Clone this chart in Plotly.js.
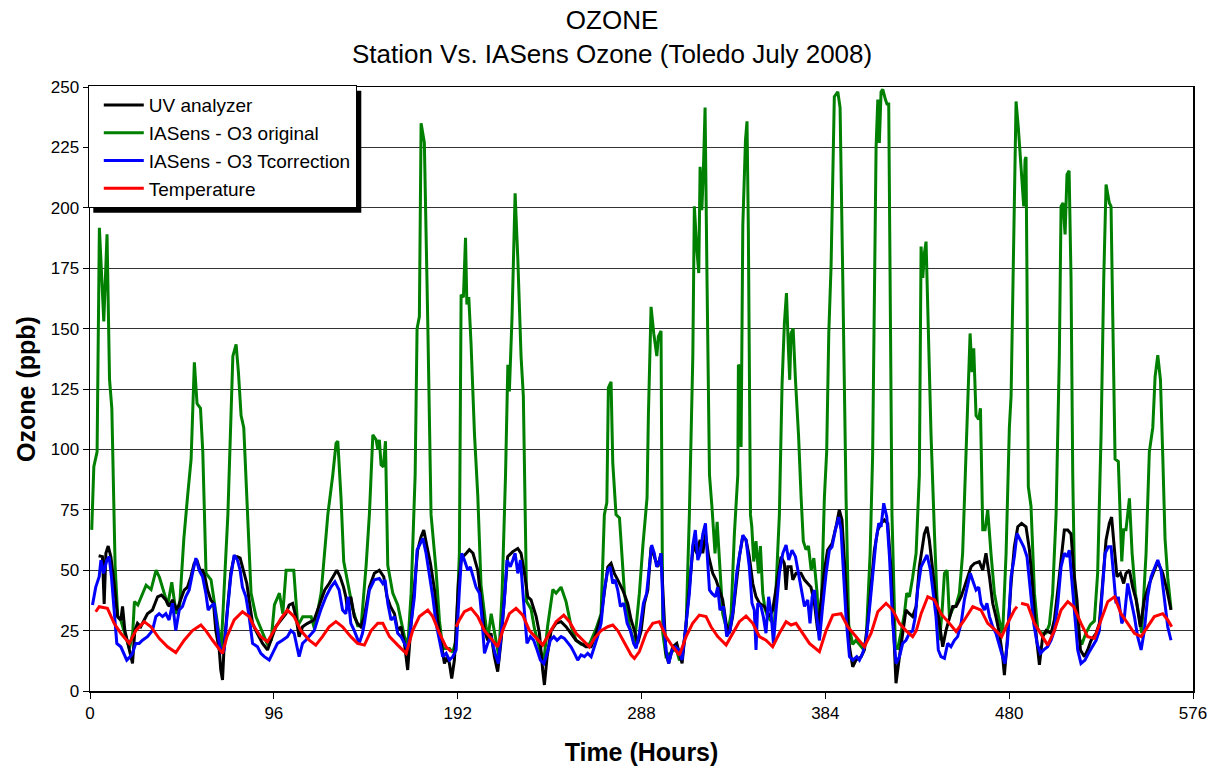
<!DOCTYPE html>
<html>
<head>
<meta charset="utf-8">
<script src="https://cdn.plot.ly/plotly-3.0.1.min.js"></script>
<style>html,body{margin:0;padding:0;background:#fff}#chart{width:1212px;height:767px}</style>
</head>
<body>
<div id="chart"></div>
<script>
// ---- data (hours, ppb / temperature) ----
const xTicks = [0, 96, 192, 288, 384, 480, 576];
const seriesNames = ["UV analyzer", "IASens - O3 original", "IASens - O3 Tcorrection", "Temperature"];

const uvHours = [4.5,6.5,7.4,8.3,9.5,10.9,12.6,14.4,16.1,17,18.2,19.6,21,22.2,23.4,24.8,26.5,28.3,30,32.6,35.3,37.3,39.6,41.3,43.1,45.4,47.4,49.2,50.9,52.7,54.4,55.8,57.5,58.8,60,61.4,63.1,64.5,65.7,67.5,68.3,69.2,70.1,71.8,73.5,75.3,77,78.4,80.2,81.9,83.1,84.9,86.6,88.3,90.1,92.7,95.3,97,99.7,102.3,104,105.8,107.5,109.2,111,113.6,117,118.8,120.5,122.6,124.9,127.5,128.9,130.6,132.4,133.6,134.5,136.2,138,139.7,141.4,143.3,145.9,148.5,151.1,153.4,155.1,156.9,159,160.7,162.4,164.2,165.9,167.7,169.4,171.1,172.9,174.3,176,177.8,179.9,181.6,183.7,185.1,186.5,187.7,188.9,190.3,192.4,194,196.5,198.1,200,202.5,204.2,206,207.7,209.4,211.2,212.9,214.7,216.4,218.1,220.8,223.4,225.1,226.9,228.6,230.3,233,234.7,236.4,237.3,238.7,240.8,243.4,246,248.6,251.2,253.8,256.4,259,261.7,264.3,266.9,268.6,270.4,272.1,273.8,275.6,278.2,280.8,282.6,284.3,286,287.8,289.5,291.3,293,294.7,296.5,298.2,299.4,300.8,302.2,304.3,306.4,307.8,309.2,311.3,313,315.1,316.8,318.6,320,321.4,323.1,325.2,326.9,328.7,330.4,332.2,333.9,335.6,337.4,339.1,340.9,342.6,344.3,346.1,347.8,349.6,352.2,354.8,356.5,358.3,360.9,362.6,363.5,364.4,366.1,367,368.7,371.3,373.1,374.8,376.5,378.3,380,381.8,383.5,385.2,387.5,389.6,391.3,392.7,393.9,395.2,396.6,398.3,400,402.7,404.4,406.1,407.9,409.6,411.4,413.1,414.8,416.6,418.3,420.1,420.9,422.7,424.4,426.1,427.9,429.6,431.4,433.1,435.7,437.1,438.3,440,441.8,443.6,445.3,447,448.8,450.5,452.3,454.9,456.6,458.3,460.1,461.8,464.4,466.2,467.9,469.7,471.4,473.1,474.9,476.6,477.5,478.9,481,482.7,484.5,486.5,488.8,490.6,492.3,494,495.8,497.5,499.3,501.9,503.6,505.4,507.1,508.8,510.6,512.3,513.7,515.4,517.2,519.3,521,522.8,525.4,527.1,528.8,530.6,532.3,533.5,535,536.3,538.1,539.8,541,542.8,544.5,546.3,548.5,550.6,553.2,555.8,557.6,560.2,562.4,564.5];
const uvValues = [56,55.6,36,57,60,55.6,44.5,30.8,29.4,35,25,19.7,15.6,11.4,25,28,26.6,29.4,32,33.5,39,39.7,37.7,35,37.7,33.5,37.7,41.8,43,47.3,52.8,54.2,50,50,47.3,41.8,37.7,36.3,25,17,8.7,4.6,19.7,33.5,48.7,55.6,55.6,55,50,44.5,37.7,28,25,22.5,19.7,17,22.5,26.6,29.4,32,35.6,36.3,30.8,22.5,26.6,28,29.4,33.5,37.7,41.8,44.5,48,50,47.3,43,39,33.5,39,30.8,28,26.6,30.8,43,48.7,50,47.3,39,35,32,25,26.6,19.7,8.7,28,41.8,58.3,63.9,66.6,59.7,52.8,41.8,29.4,18.3,11.4,14.2,11.4,5.2,12.8,45,55,57,58.5,57,50,37.7,25,21,23.9,14.2,8,21,39,55.6,57.7,59,57,48.7,39,37.7,30.8,23.9,8.7,2.5,14.2,25,28,28.7,26.6,23.9,21,19.7,18.3,18.3,23.9,30.8,41.8,51.4,52.8,48.7,46,41.8,36.3,29.4,25,19.7,25,36.3,41.8,59.7,55.6,51.4,57,37.7,15.6,11.4,18.3,19.7,15.6,11.4,28,41.8,61,57,62.5,57,65,55.6,48.7,46,41.8,37.7,28,23.9,30.8,43,55.6,63.9,62.5,55.6,44.5,39,36.3,35,30.8,33.5,43,55.6,52.8,41.8,51.4,51.4,46,48.7,48.7,46,44.5,43,36.3,25,37.7,50,58.3,61,68,75,70.8,55.6,35,18.3,10,12.8,14.2,17,28,44.5,58.3,66.6,69.4,70.8,69.4,50,17,3.2,14.2,25,33.5,32,30.8,35,51.4,65,68,62.5,50,37.7,28,18.3,25,30.8,35,35,39,43,47.3,51.4,52.8,53.5,50,57,47.3,36.3,30.8,23.9,14.2,6.6,19.7,44.5,59.7,68,69.4,68,58.3,43,23.9,10.8,22.5,25,23.9,29.4,41.8,55.6,66.6,66.6,65,50,37.7,17,14.2,17,21,23.9,28,44.5,62.5,69.4,72,58.3,47.3,48.7,44.5,48.7,50,43,37.7,26.6,37.7,44.5,50,53.5,48.7,41.8,33.5];

const origHours = [0.9,2,3.7,4.9,7.2,8.9,10.2,11.4,13.1,14.5,16.2,18.9,20.6,22.3,23.2,25,27.6,29.3,31.9,34.5,36.3,38.9,40.6,42.7,45,46.7,49,51,52.8,54.5,55.9,57.7,58.9,60.6,63.2,68.5,72,74.6,76.3,77.5,78.9,80.3,82.4,84.1,86.7,90.2,92.8,94.6,96.3,98.9,100.7,102.4,106.4,108.5,111.1,115.5,117.2,120.7,122.4,124.2,126.8,128.5,129.4,131.1,132.5,134.6,137.2,139.8,141.6,144.2,145.9,147.7,149.4,150.3,151.1,152,153.2,154.3,155.5,158.1,160.7,164.2,166,167.7,169.8,170.8,172,172.9,174.6,176.4,178.1,180.7,182.5,184.2,187.7,189.4,191.2,192.9,193.8,195,196.1,196.8,197.8,199,200.8,202.5,204.2,206,207.7,209.5,211.2,213.5,215.2,217,218.2,219,220.4,222,223.4,225.1,226.3,228,230.3,232.1,234.7,237,239,241.7,243.4,246,248.6,251.2,253.8,256.5,260.8,264.3,266.9,268.6,269.9,270.7,272.1,273,274.7,276.5,279.1,281.7,284.3,286.9,288.7,290.9,291.6,293,294.4,296,296.8,298.2,298.6,299.1,300.8,303.4,306.1,307.8,309.5,311.3,313,314.8,315.6,316.9,317.9,318.6,319.5,320.3,321.2,322.2,323.5,324.9,326.4,327.5,328.7,330.4,333,334.8,336.5,338.3,338.6,339.6,340,340.9,342.3,343.1,343.8,344.9,345.6,346.6,347.8,349.1,350.1,351.3,352.5,353.9,355.7,357.4,360,361.4,362.6,363.7,364.7,365.4,366.1,367.2,368.4,370,371.3,372.5,373.9,375.2,376.6,378,379.7,380.9,382.1,383.5,384.7,385.8,387,388.7,390.5,391.7,393.1,394.8,396.2,398.3,400,401.8,403.5,405.3,407.4,408.7,410.5,411.4,412.2,413.1,414,415.4,416.2,417.1,417.8,418.8,420.6,421.8,423.5,425.3,426.5,427.9,429.6,431.4,433.1,434,434.9,435.7,436.6,437.5,439.2,441,442.2,443.6,444.9,446.2,447.6,448.8,450.5,452.3,454,455.7,457.5,458.4,459.6,460.6,461.5,462.7,464.1,465,466.2,467.4,468.8,470.5,472.3,474.9,476.6,478.4,480.1,481,482.4,483.6,484.8,486.2,487.6,488.3,488.8,489.3,490,491.4,493.2,494.9,496.6,499.3,501,502.7,504.5,506.2,507.1,508.1,509.2,510.2,511.3,512.3,513.2,514.4,516.1,517.9,520.1,522.4,524.5,526.2,528,529.4,530.6,532.3,533.2,534.1,535.3,537,538.1,538.8,539.8,541,542.8,544.2,545.9,548,549.2,551.5,553.2,555,556.2,557.6,559,560.2,561.4,562.8,564.5];
const origValues = [66.7,92.8,99,191.7,153,189,129,117,52,30.7,29,22.5,17.6,24,37,35.6,40.5,43.8,42,50,47,40.5,35.6,45,32,34,63,81,96,136,119,117,99,48.7,46,17.6,73,138.6,143.5,132,114,109,73,40.5,30.7,24,19,21,35.6,40.5,32,50,50,27,30.7,30.7,25.8,40.5,57,73,89.5,102.6,103.4,79.7,53.6,45.4,34,27,27,52,73,106,104,100,104,93.6,92.8,103.4,52,40.5,35.6,22.5,19.3,40.5,89.5,150,155,235,227,152,73,50,29,17.6,17.6,16,21,57,164,163,187.6,160,163,143.5,106,81,43.8,32,21,32,24,14.4,40.5,89.5,135,124,155,206,179,138.6,122,37,34,25.8,17.6,12.7,27,42,40.5,43,37,27,21,19.3,19.3,25.8,32,73,78,125.5,128,94.4,73,71.6,40.5,27,19.3,40.5,60,80,114,159,148,138.6,146.7,149,89.5,24,14.4,16,17.6,12.7,16,27,73,138.6,200.6,182.7,173,217,199,215,241.5,171,89.5,75,57,70,52,32,24,32,65,89.5,135,133.7,101,192.5,228,235.8,191,73,68,53.6,62,48.7,60,40.5,34,30.7,29,27.5,73,127,152,164.7,141.8,128.8,148,150,128.8,106,81,62,58.5,60,50,55,40.5,21,40.5,80,99,148,176,246,248,241.5,171,81,27.5,19.3,21,19.3,17.6,21,57,97.7,225,244.8,226.8,248,249,244.8,243,243,163,73,17.6,17.6,24,32,40.5,39,47,57,89.5,184,171,181,186,155,106,65,40.5,21,32,48.7,50,30.7,34,35.6,40.5,57,97.7,122,148,132,141.8,114,112.4,117,66.7,66.7,75,57,40.5,29,24,57,109,122,187.6,244,233,217,200.6,220,221,171,84.6,76.5,40.5,25.8,24,24,27.5,40.5,73,138.6,200.6,202,189,213.7,215.3,171,89.5,32,22.5,19.3,24,27.5,29,48.7,106,171,209.6,202,200.6,155,96,95,73,53.6,66.7,66.7,79.7,57,40.5,29,24,57,99,109,130,139,128.8,97.7,63,47,34];

const tcorrHours = [1.3,3,4.8,5.7,7.1,8.8,10,11.2,12.6,14,16.1,17.8,19.2,21,22.2,23.9,25.7,27.4,30,32.6,34.4,36.1,37.9,39.6,41.3,43.1,44.8,46.6,48.3,50,51.8,53.5,55.3,57,58.8,60.5,61.7,63.1,64.8,66.2,67.5,68.8,70.1,71.8,73.5,75.3,77,78.4,79.6,81.4,83.1,84.9,87.5,89.2,91,93.6,95.3,97.9,100.5,103.1,104.9,106.6,109.2,111,112.7,114.5,117.1,118.8,120.5,123.2,125.8,127.9,130.1,131.9,133.6,134.8,136.2,138,140.6,142.3,143.3,145.9,148.5,151.1,152.9,154.1,155.5,157.2,159,160.7,162.4,164.2,165.9,167.7,169.4,170.8,172.5,173.8,175.5,177.2,179,180.7,182.5,184.2,186,187.7,189.4,191.2,192.9,194.1,195.5,197.3,198.6,199.9,201.6,203.4,204.6,206,207.7,209.4,211.5,213.3,214.7,216.4,217.8,219.5,220.8,222,223.4,224.8,226.5,228.2,230,231.7,233.5,235.2,237,238.7,240.4,242.2,243.9,246,247.7,249.8,251.2,253,254.7,256.4,258.2,259.9,261.7,263.4,265.1,266.9,268.6,270.4,271.6,273,274.2,275.6,277,278.7,280.5,282.2,283.9,285.2,286.9,289,290.7,292.1,293.3,294.7,295.9,297,298.2,299.4,300.8,302.2,304,305.7,307.4,309.2,310.9,313,314.7,316.1,317.4,318.6,320,321.4,322.6,323.5,324.8,326.6,327.8,329,330.8,332.5,334.2,335.9,337.7,339.5,340.9,342.6,344.3,345.7,346.9,347.8,348.7,350.4,351.6,353,354.4,355.7,356.9,358.3,360,361.8,363.5,364.9,366.6,368.4,370.1,371.8,373.1,374.8,376,377.1,378.3,379.5,380.9,382.6,384.4,386.1,387.5,389.2,391,392.2,393.4,394.8,396.6,398.3,400.4,401.8,403.5,405.3,407,408.7,410.5,411.9,413.1,414.5,416.1,417.5,419.2,420.9,422.7,424.4,426.1,427.9,429.6,431,432.2,434,435.7,437.1,438.9,440.1,441.8,443,444.4,446.2,447.9,449.6,451.4,453.1,454.9,456.6,458.3,459.7,461.5,462.7,464.1,465.3,467.1,468.4,469.7,471.4,473.1,474.9,476.6,477.8,479.2,481,482.7,484.1,485.9,487.6,489.3,491.1,492.8,494.6,496.3,498,500.1,501.9,503.6,505.4,507.1,508.8,510.2,511.4,512.3,514,515.8,517.5,519.6,521.4,523.6,525.4,527.1,528.8,530.1,531.8,533.2,534.6,535.8,537,538.8,540.2,541.9,543.6,545.4,547.1,548.9,550.6,552.3,554.1,556.2,557.6,559.3,561,562.8,564.5];
const tcorrValues = [35.6,43,47.3,54.2,48.7,54.2,55.6,47.3,33.5,19.7,18.3,15.6,12.8,14.2,15.6,19.7,19.7,21,22.5,25,30.8,32,30.8,32,29.4,36.3,25,33.5,35,39,41.8,48.7,55,50,47.3,40.4,33.5,35,36.3,28,19.7,15.6,17,33.5,47.3,56.3,54.2,50,43,39,30.8,19.7,18.3,15.6,14.2,12.8,15.6,19.7,21,22.5,25,23.9,14.2,19.7,21,22.5,25,29.4,33.5,39,43,45.2,41.8,33.5,32,39,28,25,19.7,23.9,28,41.8,46,46.6,44.5,46,36.3,29.4,30.8,23.9,22.5,19.7,17,28,39,58.3,61,63.2,57,48.7,39,28,21,14.2,15.6,12.8,14.2,17,41.8,57,54.2,50,51.4,47.3,43,40.4,30.8,15.6,19.7,22.5,15.6,11.4,22.5,37.7,54.2,51.4,54.2,57,48.7,54.2,36.3,19.7,22.5,21,17,12.8,11.4,15.6,21,22.5,21,22.5,21.8,19.7,18.3,15.6,12.8,14.9,14.2,15.6,14.2,18.3,22.5,28,41.8,50,51.4,44.5,46,41.8,35,36.3,28,25,19.7,17.7,24,36.3,40.4,51.4,60.4,57,51.4,52.8,57,30.8,17,11.4,17,18.3,17,12.8,25,40.4,59.7,66.6,54.2,57,65,69.4,52.8,41.8,40.4,39,43,33.5,35,22.5,25,33.5,48.7,58.3,64.5,62.5,51.4,36.3,33.5,17,36.3,35,30.8,23.9,39,32,19.7,33.5,48.7,57,60.4,54.2,58.3,55.6,48.7,41.8,35,37.7,28,39,41.8,30.8,21,35,48.7,58.3,59.7,66.6,72,66.6,50,30.8,14.2,12.8,14.2,12.8,15.6,21,33.5,48.7,62.5,69.4,68,77.7,72,55.6,28,11.4,14.2,19.7,21,23.9,25,30.8,41.8,51.4,54.2,56.3,50,41.8,30.8,17,14.2,13.5,19.7,18.3,21,22.5,28,37.7,44.5,48.7,44.5,41.8,43,36.3,33.5,36.3,30.8,26.6,23.9,18.3,14.2,11.4,21,47.3,55.6,65.2,62.5,59.7,55.6,41.8,28,19.7,15.6,17,18.3,21,25,36.3,51.4,57,55.6,58.3,50,35,17,11.4,12.8,15.6,18.3,21,25,41.8,57,59.7,59.7,47.3,36.3,39,28,30.8,44.5,37.7,30.8,22.5,17,25,39,47.3,51.4,54.2,50,39,26.6,21];

const tempHours = [3,4.8,9.1,12.6,16.1,20.5,23.9,28.3,31.8,36.1,40.5,44.8,49.2,53.5,57.9,60.5,64,67.5,69.2,71.5,75.3,79.6,83.1,85.7,89.2,92.7,96.2,99.7,103.1,106.6,110.1,114.5,117.9,121.4,124.9,128.4,131.9,136.2,139.7,143.3,146.8,150.3,152.9,156.4,160.7,165.1,168.5,172,176.4,179,182.5,185.9,188.6,190,191.2,192.9,195.5,199,202.5,206,209.4,212.9,215.5,219,222.5,226,229.5,233,236.4,239.9,243.4,247.4,250.4,253.8,257.3,260.8,263.4,266.9,270.4,273,275.6,279.1,282.6,284.3,286.9,290.4,293.9,297.3,300.8,304.3,307.8,311.3,314.7,318.2,321.7,324.3,327.8,332.2,335.6,339.1,342.6,346.1,349.6,353,356.5,360,363.5,366.1,368.7,372.2,375.7,380.9,384.4,387.9,392.2,395.7,400,404.4,407.9,411.4,415.7,419.2,422.7,426.1,429.6,431.5,434,437.5,441,444.4,448.8,452.3,456.6,461,465.3,468.8,473.1,476.1,479.2,482.7,484.1,485,486.2,489.7,493.2,497.5,500.1,503.6,507.1,510.6,513.7,517.5,521,524.5,528,531.5,535,538.4,541.9,545.4,548.9,552.3,555.8,560.2,562.8,564.9];
const tempValues = [32.8,34.9,34.2,28,23.9,19.7,25,28.7,26.6,21.8,18.3,15.9,21,25,27.3,25,21,17,15.6,22.5,29.4,32.8,30.8,26.6,22.5,20.4,25,30,33.5,30.8,25,21,19,22.5,26.6,28.7,26.6,22.5,19.7,19,25,28,28,22.5,19,15.6,25,30.8,33.5,30.8,23.9,18.3,16.3,null,26.6,29.4,32.8,34.2,30.8,25,21.8,18.3,25,32,34.2,31.4,25,21.8,19,23.9,28.7,31.4,28.7,23.9,21,18.3,21.8,25,26.6,27.3,25,19.7,14.9,13.5,16.3,23.9,28,28.7,22.5,18.3,14.9,22.5,28,31.4,30.8,26.6,22.5,19,23.9,28.7,31,28,22.5,21,18.3,23.9,28.7,27.3,28,23.9,19.7,16.3,25,31.4,32,26.6,22.5,18.3,23.9,32.8,36.3,33.5,28,25,22.5,25,32,39,37.7,32,28,24.6,29.4,34.9,33.5,28,25,22.5,28,33.5,34.9,null,36.3,35.6,28,22.5,19,25,33.5,37,34.9,28,22.5,21.8,29.4,37,39,32,28,23.9,22.5,26.6,30.8,32,29.4,26.6];

const colors = {uv: "#000000", orig: "#008000", tcorr: "#0000FF", temp: "#FF0000"};
const FONT = "Liberation Sans, Arial, sans-serif";
const M = {l: 90, r: 19, t: 87, b: 76};

const traces = [
  {x: origHours, y: origValues, name: seriesNames[1], legendrank: 2, legendgroup: "g2",
   type: "scatter", mode: "lines", line: {color: colors.orig, width: 3}},
  {x: uvHours, y: uvValues, name: seriesNames[0], legendrank: 1, legendgroup: "g1",
   type: "scatter", mode: "lines", line: {color: colors.uv, width: 3}},
  {x: tcorrHours, y: tcorrValues, name: seriesNames[2], legendrank: 3, legendgroup: "g3",
   type: "scatter", mode: "lines", line: {color: colors.tcorr, width: 3}},
  {x: tempHours, y: tempValues, name: seriesNames[3], legendrank: 4, legendgroup: "g4",
   type: "scatter", mode: "lines", connectgaps: false, line: {color: colors.temp, width: 3}}
];

const layout = {
  width: 1212, height: 767,
  paper_bgcolor: "#ffffff", plot_bgcolor: "#ffffff",
  margin: M,
  font: {family: FONT, color: "#000", size: 17},
  title: {text: "OZONE<br>Station Vs. IASens Ozone (Toledo July 2008)",
          x: 0.505, xref: "container", xanchor: "center",
          y: 0.9625, yref: "container", yanchor: "top",
          font: {family: FONT, size: 26, color: "#000"}},
  xaxis: {range: [0, 576], tickvals: xTicks, ticktext: xTicks.map(String),
          ticks: "outside", ticklen: 6, tickcolor: "#000", showgrid: false, zeroline: false,
          showline: true, linecolor: "#000", linewidth: 1.5, mirror: true,
          tickfont: {family: FONT, size: 17},
          title: {text: "<b>Time (Hours)</b>", font: {family: FONT, size: 25}, standoff: 21}},
  yaxis: {range: [0, 250], dtick: 25, tick0: 0,
          ticks: "outside", ticklen: 6, tickcolor: "#000",
          showgrid: true, gridcolor: "#333", gridwidth: 1, zeroline: false,
          showline: true, linecolor: "#000", linewidth: 1.5, mirror: true,
          tickfont: {family: FONT, size: 17},
          title: {text: "<b>Ozone (ppb)</b>", font: {family: FONT, size: 25}, standoff: 8}},
  legend: {x: -0.002, y: 1.003, xanchor: "left", yanchor: "top",
           bgcolor: "#ffffff", bordercolor: "#000", borderwidth: 1,
           font: {family: FONT, size: 19}, itemwidth: 40, indentation: 10,
           tracegroupgap: 10, traceorder: "normal"}
};

Plotly.newPlot("chart", traces, layout, {displayModeBar: false, staticPlot: true}).then(function (gd) {
  // drop shadow behind the legend box, sized from the drawn legend
  const bg = gd.querySelector(".legend .bg");
  if (!bg) return;
  const r = bg.getBoundingClientRect();
  const c = gd.getBoundingClientRect();
  const pw = 1212 - M.l - M.r, ph = 767 - M.t - M.b;
  const off = 5;
  const toX = px => (px - c.left - M.l) / pw;
  const toY = py => 1 - (py - c.top - M.t) / ph;
  return Plotly.relayout(gd, {shapes: [{
    type: "rect", xref: "paper", yref: "paper",
    x0: toX(r.left + off), x1: toX(r.right + off),
    y0: toY(r.bottom + off), y1: toY(r.top + off),
    fillcolor: "#000", line: {width: 0}, layer: "above"}]});
});
</script>
</body>
</html>
